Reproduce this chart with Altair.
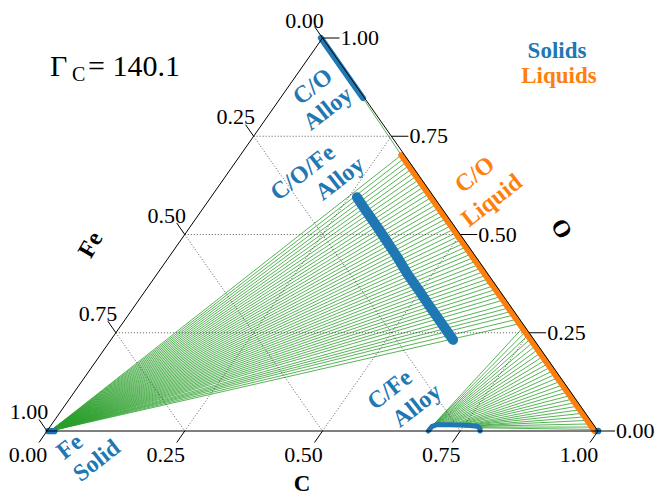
import altair as alt
import pandas as pd

# ---------------- data (compositions as fractions C, O; Fe = 1 - C - O) -------------
# C/O alloy (solid) along the C-O edge
CO_ALLOY_O = [1.000, 0.960, 0.920, 0.885, 0.847]
CO_ALLOY_FE = [0.003, 0.003, 0.003, 0.003, 0.003]

# C/O/Fe alloy (solid) band
BAND_O = [0.595, 0.560, 0.520, 0.480, 0.443, 0.400, 0.360, 0.320, 0.280, 0.232]
BAND_FE = [0.140, 0.141, 0.141, 0.142, 0.143, 0.146, 0.146, 0.147, 0.147, 0.147]

# C/Fe alloy (solid) near the C-Fe edge
CFE_C = [0.692, 0.693, 0.700, 0.720, 0.740, 0.760, 0.775, 0.783, 0.786]
CFE_O = [0.000, 0.012, 0.016, 0.016, 0.015, 0.014, 0.012, 0.006, 0.000]

# Fe solid and pure C solid
FE_SOLID_C = [0.003, 0.008, 0.013]
C_SOLID_C = [1.0]

# liquid compositions on the C-O edge (small Fe)
LIQ_FE = 0.006

# tie lines: Fe solid -> C/O liquid
UPPER_LIQ_O = [0.702, 0.693, 0.684, 0.675, 0.666, 0.657, 0.648, 0.639, 0.630, 0.621,
               0.612, 0.603, 0.594, 0.585, 0.576, 0.567, 0.558, 0.549, 0.540, 0.531,
               0.522, 0.513, 0.504, 0.495, 0.486, 0.477, 0.468, 0.459, 0.450, 0.441,
               0.432, 0.423, 0.414, 0.405, 0.396, 0.387, 0.378, 0.369, 0.360, 0.351,
               0.342, 0.333, 0.322, 0.313, 0.304, 0.295, 0.284, 0.273]
UPPER_SOL_C = [0.006] * len(UPPER_LIQ_O)

# tie lines: C/Fe alloy -> C/O liquid
LOWER_LIQ_O = [0.262, 0.252, 0.243, 0.234, 0.225, 0.216, 0.207, 0.198, 0.189, 0.180,
               0.171, 0.162, 0.153, 0.144, 0.135, 0.126, 0.117, 0.108, 0.099, 0.090,
               0.081, 0.072, 0.063, 0.054, 0.045, 0.036, 0.027, 0.018, 0.010, 0.004]
LOWER_SOL_C = [0.693, 0.693, 0.694, 0.694, 0.695, 0.696, 0.697, 0.698, 0.700, 0.702,
               0.704, 0.707, 0.710, 0.713, 0.716, 0.720, 0.724, 0.728, 0.732, 0.736,
               0.740, 0.745, 0.750, 0.755, 0.760, 0.765, 0.770, 0.775, 0.780, 0.784]
LOWER_SOL_O = [0.014, 0.014, 0.015, 0.015, 0.015, 0.016, 0.016, 0.016, 0.016, 0.016,
               0.016, 0.016, 0.016, 0.016, 0.016, 0.016, 0.015, 0.015, 0.015, 0.015,
               0.015, 0.014, 0.014, 0.014, 0.014, 0.013, 0.013, 0.012, 0.010, 0.008]

# single tie line C/O alloy -> C/O liquid
CO_TIE = [(0.847, 0.702)]

TICKS = [0.0, 0.25, 0.5, 0.75, 1.0]
TICK_TEXT = ["0.00", "0.25", "0.50", "0.75", "1.00"]

BLUE, ORANGE, GREEN = "#1f77b4", "#ff7f0e", "#2ca02c"
FONT = "Liberation Serif"
ANG = -38

# ---------------- helpers -------------
def xy(c, o):
    return c + o / 2.0, o

def pt_df(cs, os_):
    rows = []
    for i, (c, o) in enumerate(zip(cs, os_)):
        x, y = xy(c, o)
        rows.append({"x": x, "y": y, "i": i})
    return pd.DataFrame(rows)

X = lambda f="x": alt.X(f"{f}:Q", scale=alt.Scale(domain=[0, 1], nice=False, zero=False), axis=None)
Y = lambda f="y": alt.Y(f"{f}:Q", scale=alt.Scale(domain=[0, 1], nice=False, zero=False), axis=None)

def seg_layer(df, **mk):
    return alt.Chart(df).mark_rule(**mk).encode(x=X("x1"), y=Y("y1"), x2="x2:Q", y2="y2:Q")

# ---------------- tie lines -------------
ties = []
for c_s, o_l in zip(UPPER_SOL_C, UPPER_LIQ_O):
    x1, y1 = xy(c_s, 0.0)
    x2, y2 = xy(1 - o_l - LIQ_FE, o_l)
    ties.append({"x1": x1, "y1": y1, "x2": x2, "y2": y2})
for c_s, o_s, o_l in zip(LOWER_SOL_C, LOWER_SOL_O, LOWER_LIQ_O):
    x1, y1 = xy(c_s, o_s)
    x2, y2 = xy(1 - o_l - LIQ_FE, o_l)
    ties.append({"x1": x1, "y1": y1, "x2": x2, "y2": y2})
for o_s, o_l in CO_TIE:
    x1, y1 = xy(1 - o_s - CO_ALLOY_FE[-1], o_s)
    x2, y2 = xy(1 - o_l - LIQ_FE, o_l)
    ties.append({"x1": x1, "y1": y1, "x2": x2, "y2": y2})
ties_df = pd.DataFrame(ties)

# ---------------- grid (dotted) -------------
grid = []
for v in [0.25, 0.5, 0.75]:
    a = xy(0.0, v); b = xy(1 - v, v)
    grid.append({"x1": a[0], "y1": a[1], "x2": b[0], "y2": b[1]})
    a = xy(v, 0.0); b = xy(v, 1 - v)
    grid.append({"x1": a[0], "y1": a[1], "x2": b[0], "y2": b[1]})
    a = xy(0.0, 1 - v); b = xy(1 - v, 0.0)
    grid.append({"x1": a[0], "y1": a[1], "x2": b[0], "y2": b[1]})
grid_df = pd.DataFrame(grid)

# ---------------- triangle edges -------------
A, B, T = xy(0, 0), xy(1, 0), xy(0, 1)
edges_df = pd.DataFrame([
    {"x1": A[0], "y1": A[1], "x2": B[0], "y2": B[1]},
    {"x1": B[0], "y1": B[1], "x2": T[0], "y2": T[1]},
    {"x1": T[0], "y1": T[1], "x2": A[0], "y2": A[1]},
])

# ---------------- ticks & labels -------------
W, H = 551, 393
TOP_LIMIT = (431 - 21) / H   # keep the top label inside the canvas
ticks, labels = [], []
for v, s in zip(TICKS, TICK_TEXT):
    bx, by = xy(0.0, 1 - v)
    ticks.append({"x1": bx, "y1": by, "x2": bx - 8 / W, "y2": by + 11.5 / H})
    labels.append({"x": bx - 18 / W, "y": min(by + 19 / H, TOP_LIMIT), "t": s, "al": "center"})
    bx, by = xy(1 - v, v)
    ticks.append({"x1": bx, "y1": by, "x2": bx + 17 / W, "y2": by})
    labels.append({"x": bx + 18 / W, "y": by, "t": s, "al": "left"})
    bx, by = xy(v, 0.0)
    ticks.append({"x1": bx, "y1": by, "x2": bx - 8 / W, "y2": by - 11.5 / H})
    labels.append({"x": bx - 19 / W, "y": by - 24 / H, "t": s, "al": "center"})
ticks_df = pd.DataFrame(ticks)
lab_df = pd.DataFrame(labels)

# ---------------- layers -------------
layers = []
layers.append(seg_layer(ties_df, color=GREEN, strokeWidth=0.8))
layers.append(seg_layer(grid_df, color="#333333", strokeWidth=0.8, strokeDash=[1, 2]))

liq_o = sorted(set(UPPER_LIQ_O + LOWER_LIQ_O + [o for _, o in CO_TIE] + [0.0]), reverse=True)
liq_df = pt_df([1 - o - LIQ_FE for o in liq_o], liq_o)
layers.append(alt.Chart(liq_df).mark_line(color=ORANGE, strokeWidth=6, strokeCap="round")
              .encode(x=X(), y=Y(), order="i:Q"))

co_df = pt_df([1 - o - f for o, f in zip(CO_ALLOY_O, CO_ALLOY_FE)], CO_ALLOY_O)
layers.append(alt.Chart(co_df).mark_line(color=BLUE, strokeWidth=6, strokeCap="round")
              .encode(x=X(), y=Y(), order="i:Q"))
band_df = pt_df([1 - o - f for o, f in zip(BAND_O, BAND_FE)], BAND_O)
layers.append(alt.Chart(band_df).mark_line(color=BLUE, strokeWidth=10, strokeCap="round", strokeJoin="round")
              .encode(x=X(), y=Y(), order="i:Q"))
cfe_df = pt_df(CFE_C, CFE_O)
layers.append(alt.Chart(cfe_df).mark_line(color=BLUE, strokeWidth=5, strokeCap="round", strokeJoin="round")
              .encode(x=X(), y=Y(), order="i:Q"))
fe_df = pt_df(FE_SOLID_C + C_SOLID_C, [0.0] * (len(FE_SOLID_C) + len(C_SOLID_C)))
layers.append(alt.Chart(fe_df).mark_circle(color=BLUE, opacity=1, size=45).encode(x=X(), y=Y()))

layers.append(seg_layer(edges_df, color="black", strokeWidth=1))
layers.append(seg_layer(ticks_df, color="black", strokeWidth=1))

for al in ["center", "left"]:
    layers.append(alt.Chart(lab_df[lab_df.al == al]).mark_text(
        font=FONT, fontSize=22, color="black", align=al, baseline="middle")
        .encode(x=X(), y=Y(), text="t:N"))

# ---------------- annotations -------------
def px(xp, yp):
    return (xp - 47) / W, (431 - yp) / H

def txt(s, p, color="black", size=24, weight="bold", angle=0, align="center", baseline="middle", font=FONT):
    x, y = px(*p)
    df = pd.DataFrame([{"x": x, "y": y, "t": s}])
    return alt.Chart(df).mark_text(font=font, fontSize=size, fontWeight=weight, color=color,
                                   angle=angle % 360, align=align, baseline=baseline).encode(
        x=X(), y=Y(), text="t:N")

layers += [
    txt("Γ", (50, 76), size=30, weight="normal", align="left", baseline="alphabetic"),
    txt("C", (72, 81), size=20, weight="normal", align="left", baseline="alphabetic"),
    txt("= 140.1", (88, 76), size=30, weight="normal", align="left", baseline="alphabetic"),
    txt("Solids", (557, 58), color=BLUE, size=23, baseline="alphabetic"),
    txt("Liquids", (559, 83), color=ORANGE, size=23, baseline="alphabetic"),
    txt("C/O", (313, 87), color=BLUE, angle=ANG),
    txt("Alloy", (328, 109), color=BLUE, angle=ANG),
    txt("C/O/Fe", (303, 173), color=BLUE, angle=ANG),
    txt("Alloy", (340, 179), color=BLUE, angle=ANG),
    txt("C/O", (475, 175), color=ORANGE, angle=ANG),
    txt("Liquid", (492, 201), color=ORANGE, angle=ANG),
    txt("C/Fe", (390, 390), color=BLUE, angle=ANG),
    txt("Alloy", (417, 406), color=BLUE, angle=ANG),
    txt("Fe", (70, 447), color=BLUE, angle=ANG),
    txt("Solid", (97, 461), color=BLUE, angle=ANG),
    txt("Fe", (91, 245), size=24, angle=-60),
    txt("O", (561, 229), size=24, angle=60),
    txt("C", (302, 484), size=23),
]

chart = alt.layer(*layers).properties(
    width=W, height=H,
    autosize=alt.AutoSizeParams(type="none"),
    padding={"left": 39, "top": 30, "right": 57, "bottom": 65},
).configure_view(stroke=None)

chart.save("out.html", embed_options={"renderer": "svg", "actions": False})
